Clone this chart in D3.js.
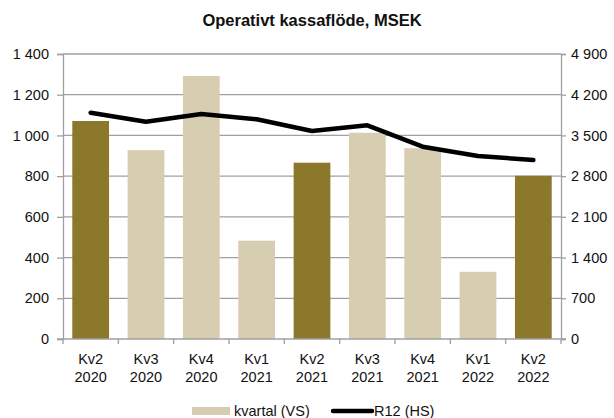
<!DOCTYPE html>
<html>
<head>
<meta charset="utf-8">
<script src="https://cdn.jsdelivr.net/npm/d3@7"></script>
<style>
  body { margin: 0; background: #fff; }
  text { font-family: "Liberation Sans", Arial, sans-serif; fill: #111; }
</style>
</head>
<body>
<div id="chart"></div>
<script>
const quarters = ['Kv2', 'Kv3', 'Kv4', 'Kv1', 'Kv2', 'Kv3', 'Kv4', 'Kv1', 'Kv2'];
const years = ['2020', '2020', '2020', '2021', '2021', '2021', '2021', '2022', '2022'];
const kvartal = [1071, 928, 1292, 483, 866, 1013, 937, 330, 802];
const r12 = [3891, 3736, 3868, 3777, 3576, 3674, 3306, 3147, 3077];
const leftTicks = [0, 200, 400, 600, 800, 1000, 1200, 1400];
const rightTicks = [0, 700, 1400, 2100, 2800, 3500, 4200, 4900];

const width = 614, height = 418;
const margin = { top: 54, right: 53, bottom: 79, left: 63 };
const innerW = width - margin.left - margin.right;
const innerH = height - margin.top - margin.bottom;

const svg = d3.select('#chart').append('svg')
    .attr('width', width)
    .attr('height', height);

const g = svg.append('g')
    .attr('transform', `translate(${margin.left}, ${margin.top})`);

const idx = d3.range(kvartal.length);

const x = d3.scaleBand()
    .domain(idx)
    .range([0, innerW])
    .paddingInner(0.336)
    .paddingOuter(0.168);

const yL = d3.scaleLinear().domain([0, 1400]).range([innerH, 0]);
const yR = d3.scaleLinear().domain([0, 4900]).range([innerH, 0]);

const fmt = v => d3.format(',')(v).replace(/,/g, ' ');
const gray = '#a0a0a0';
const fontSize = '14.5px';

// gridlines
g.selectAll('.grid')
    .data(leftTicks.filter(d => d > 0))
    .enter().append('line')
    .attr('x1', 0).attr('x2', innerW)
    .attr('y1', d => yL(d)).attr('y2', d => yL(d))
    .attr('stroke', gray).attr('stroke-width', 1.3);

// bars
g.selectAll('.bar')
    .data(idx)
    .enter().append('rect')
    .attr('x', i => x(i))
    .attr('width', x.bandwidth())
    .attr('y', i => yL(kvartal[i]))
    .attr('height', i => innerH - yL(kvartal[i]))
    .attr('fill', i => quarters[i] === 'Kv2' ? '#8b782b' : '#d7cdb1');

// R12 line
const line = d3.line()
    .x(i => x(i) + x.bandwidth() / 2)
    .y(i => yR(r12[i]));

g.append('path')
    .datum(idx)
    .attr('fill', 'none')
    .attr('stroke', '#000')
    .attr('stroke-width', 4.5)
    .attr('stroke-linecap', 'round')
    .attr('stroke-linejoin', 'round')
    .attr('d', line);

// left axis
const left = g.append('g')
    .call(d3.axisLeft(yL).tickValues(leftTicks).tickFormat(fmt).tickSizeOuter(0).tickSize(6).tickPadding(8));
// right axis
const right = g.append('g')
    .attr('transform', `translate(${innerW},0)`)
    .call(d3.axisRight(yR).tickValues(rightTicks).tickFormat(fmt).tickSizeOuter(0).tickSize(5).tickPadding(5));

[left, right].forEach(a => {
    a.select('.domain').attr('stroke', gray).attr('stroke-width', 1.3);
    a.selectAll('.tick line').attr('stroke', gray).attr('stroke-width', 1.3);
    a.selectAll('.tick text')
        .style('font-family', '"Liberation Sans", Arial, sans-serif')
        .style('font-size', fontSize)
        .attr('fill', '#111');
});

// bottom axis
g.append('line')
    .attr('x1', -6).attr('x2', innerW + 5)
    .attr('y1', innerH).attr('y2', innerH)
    .attr('stroke', gray).attr('stroke-width', 1.3);

g.selectAll('.xtick')
    .data(d3.range(kvartal.length + 1))
    .enter().append('line')
    .attr('x1', i => i * x.step())
    .attr('x2', i => i * x.step())
    .attr('y1', innerH).attr('y2', innerH + 5)
    .attr('stroke', gray).attr('stroke-width', 1.3);

const xl = g.selectAll('.xlabel')
    .data(idx)
    .enter().append('text')
    .attr('text-anchor', 'middle')
    .style('font-size', fontSize);
xl.append('tspan')
    .attr('x', i => x(i) + x.bandwidth() / 2)
    .attr('y', innerH + 25)
    .text(i => quarters[i]);
xl.append('tspan')
    .attr('x', i => x(i) + x.bandwidth() / 2)
    .attr('y', innerH + 43)
    .text(i => years[i]);

// title
svg.append('text')
    .attr('x', 312)
    .attr('y', 26)
    .attr('text-anchor', 'middle')
    .style('font-size', '16.5px')
    .style('font-weight', 'bold')
    .text('Operativt kassaflöde, MSEK');

// legend
const lg = svg.append('g').attr('transform', 'translate(192, 411)');
lg.append('rect')
    .attr('x', 0).attr('y', -4).attr('width', 38).attr('height', 8)
    .attr('fill', '#d7cdb1');
lg.append('text')
    .attr('x', 42).attr('y', 5)
    .style('font-size', fontSize)
    .text('kvartal (VS)');
lg.append('line')
    .attr('x1', 141).attr('x2', 180).attr('y1', 0).attr('y2', 0)
    .attr('stroke', '#000').attr('stroke-width', 4.5)
    .attr('stroke-linecap', 'round');
lg.append('text')
    .attr('x', 182).attr('y', 5)
    .style('font-size', fontSize)
    .text('R12 (HS)');
</script>
</body>
</html>
